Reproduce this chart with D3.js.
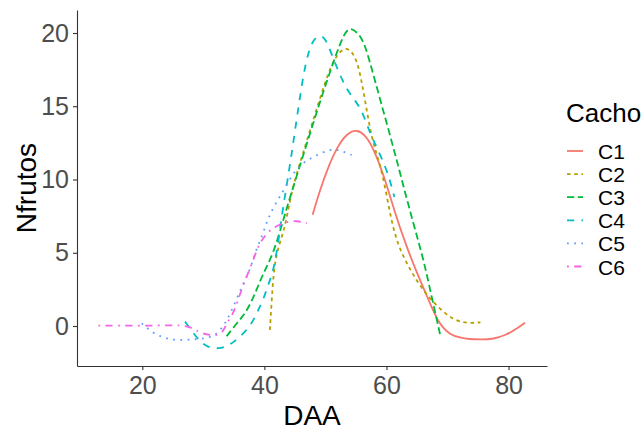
<!DOCTYPE html>
<html lang="en">
<head>
  <meta charset="UTF-8" />
  <title>Nfrutos por DAA</title>
  <script src="https://d3js.org/d3.v7.min.js"></script>
  <style>
    body {
      margin: 0;
      background: #fff;
      font-family: "Liberation Sans", Arial, sans-serif;
    }
    .tick text {
      fill: #4d4d4d;
    }
  </style>
</head>
<body>

<svg id="chart" width="643" height="430"></svg>

<script>
// data: DAA (x) and Nfrutos (y) for each cacho
const series = ["C1", "C2", "C3", "C4", "C5", "C6"];
const xTicks = [20, 40, 60, 80];
const yTicks = [0, 5, 10, 15, 20];

const c1x = [47.9, 49.2, 50.5, 51.9, 53.5, 55.15, 56.6, 57.9, 59.8, 61.4, 63.3, 65.2, 66.9, 68.5, 70.4, 72.1, 73.5, 75.5, 77.5, 79.7, 81.3, 82.7];
const c1y = [7.6, 9.4, 10.9, 12.2, 13.15, 13.43, 13.0, 12.1, 10.0, 7.7, 5.4, 3.4, 1.8, 0.18, -0.6, -0.8, -0.9, -0.92, -0.9, -0.6, -0.2, 0.23];

const c2x = [40.9, 41.2, 41.5, 42.0, 42.7, 43.4, 44.5, 46.1, 48.85, 51.0, 52.95, 54.3, 55.4, 56.5, 57.6, 59.0, 60.0, 60.9, 62.0, 63.6, 65.5, 68.3, 71.0, 73.2, 75.4];
const c2y = [-0.27, 1.77, 3.6, 4.96, 5.9, 6.8, 9.3, 11.5, 15.2, 18.0, 19.07, 18.8, 17.9, 15.4, 12.7, 11.0, 9.0, 7.0, 5.4, 4.05, 2.7, 1.3, 0.4, 0.18, 0.25];

const c3x = [33.8, 35.7, 37.1, 38.5, 39.8, 41.5, 43.1, 44.2, 46.1, 48.85, 51.6, 53.0, 54.05, 56.0, 57.05, 59.0, 61.0, 62.5, 64.4, 66.1, 67.4, 68.8];
const c3y = [-0.7, 0.3, 0.98, 2.23, 3.6, 4.96, 7.24, 8.8, 11.3, 15.0, 18.4, 19.9, 20.48, 19.75, 18.4, 15.4, 12.4, 10.0, 7.0, 4.5, 2.0, -0.6];

const c4x = [27.0, 28.9, 30.3, 32.5, 34.4, 36.0, 37.65, 38.75, 39.8, 40.7, 41.5, 42.3, 42.9, 44.2, 45.0, 45.85, 46.7, 47.8, 49.1, 50.0, 50.8, 51.9, 53.5, 54.9, 56.2, 57.3, 58.4, 59.8, 60.6, 61.3];
const c4y = [0.3, -0.8, -1.4, -1.6, -1.3, -0.73, -0.05, 0.87, 1.77, 2.9, 3.8, 5.75, 7.7, 11.0, 13.3, 15.7, 17.9, 19.5, 19.9, 19.6, 18.8, 17.6, 16.1, 15.4, 14.5, 13.15, 12.2, 10.9, 9.9, 8.8];

const c5x = [19.9, 21.8, 23.5, 25.1, 26.7, 28.6, 30.0, 31.4, 32.7, 34.4, 36.6, 37.65, 38.5, 39.6, 40.4, 40.9, 42.0, 43.1, 45.3, 48.0, 50.8, 52.4, 54.3];
const c5y = [0.18, -0.5, -0.8, -0.95, -0.96, -0.9, -0.87, -0.73, -0.39, 0.75, 3.0, 3.8, 5.07, 6.1, 7.1, 7.6, 8.5, 9.2, 10.9, 11.55, 12.1, 12.0, 11.67];

const c6x = [12.8, 16, 20, 24.5, 26.2, 27.8, 29.2, 30.6, 32.0, 33.3, 33.8, 34.9, 35.5, 36.6, 37.9, 39.0, 40.0, 40.9, 42.3, 43.7, 45.3, 46.95];
const c6y = [0.02, 0.02, 0.02, 0.05, 0.05, -0.05, -0.39, -0.6, -0.68, -0.39, 0.18, 0.86, 1.55, 2.9, 4.16, 5.5, 6.1, 6.55, 6.9, 7.1, 7.2, 7.0];

const xs = [c1x, c2x, c3x, c4x, c5x, c6x];
const ys = [c1y, c2y, c3y, c4y, c5y, c6y];

const colors = ["#F8766D", "#B79F00", "#00BA38", "#00BFC4", "#619CFF", "#F564E3"];
const lw = 1.8;
// ggplot linetypes "solid","22","42","44","13","1343", scaled by line width
const dashes = [null, "22", "42", "44", "13", "1343"].map(p =>
  p ? p.split("").map(d => +d * lw).join(",") : null);

const svg = d3.select("#chart");
const mLeft = 77, mRight = 547, mTop = 10, mBottom = 366;

const x = d3.scaleLinear().domain([9.3, 86.3]).range([mLeft, mRight]);
const y = d3.scaleLinear().domain([-2.73, 21.57]).range([mBottom, mTop]);

// axes
const xAxis = svg.append("g")
  .attr("transform", `translate(0,${mBottom})`)
  .call(d3.axisBottom(x).tickValues(xTicks).tickSize(4).tickPadding(6).tickSizeOuter(0));
const yAxis = svg.append("g")
  .attr("transform", `translate(${mLeft},0)`)
  .call(d3.axisLeft(y).tickValues(yTicks).tickSize(4).tickPadding(4).tickSizeOuter(0));

[xAxis, yAxis].forEach(g => {
  g.select(".domain").attr("stroke", "#333").attr("stroke-width", 1.1);
  g.selectAll(".tick line").attr("stroke", "#333").attr("stroke-width", 1.1);
  g.selectAll(".tick text")
    .style("font-family", "'Liberation Sans', Arial, sans-serif")
    .style("font-size", "25px");
});

// lines
const line = d3.line()
  .x(d => x(d[0]))
  .y(d => y(d[1]))
  .curve(d3.curveBasis);

series.forEach((s, i) => {
  const pts = xs[i].map((v, j) => [v, ys[i][j]]);
  svg.append("path")
    .datum(pts)
    .attr("fill", "none")
    .attr("stroke", colors[i])
    .attr("stroke-width", lw)
    .attr("stroke-dasharray", dashes[i])
    .attr("d", line);
});

// axis titles
svg.append("text")
  .attr("x", (mLeft + mRight) / 2)
  .attr("y", 425)
  .attr("text-anchor", "middle")
  .style("font-size", "28px")
  .text("DAA");

svg.append("text")
  .attr("transform", `translate(36,${(mTop + mBottom) / 2}) rotate(-90)`)
  .attr("text-anchor", "middle")
  .style("font-size", "28px")
  .text("Nfrutos");

// legend
const legend = svg.append("g");
legend.append("text")
  .attr("x", 566)
  .attr("y", 122)
  .style("font-size", "26px")
  .text("Cacho");

series.forEach((s, i) => {
  const ky = 151 + i * 23.1;
  legend.append("line")
    .attr("x1", 567).attr("x2", 583)
    .attr("y1", ky).attr("y2", ky)
    .attr("stroke", colors[i])
    .attr("stroke-width", lw)
    .attr("stroke-dasharray", dashes[i]);
  legend.append("text")
    .attr("x", 598)
    .attr("y", ky + 8)
    .style("font-size", "21px")
    .text(s);
});
</script>

</body>
</html>
